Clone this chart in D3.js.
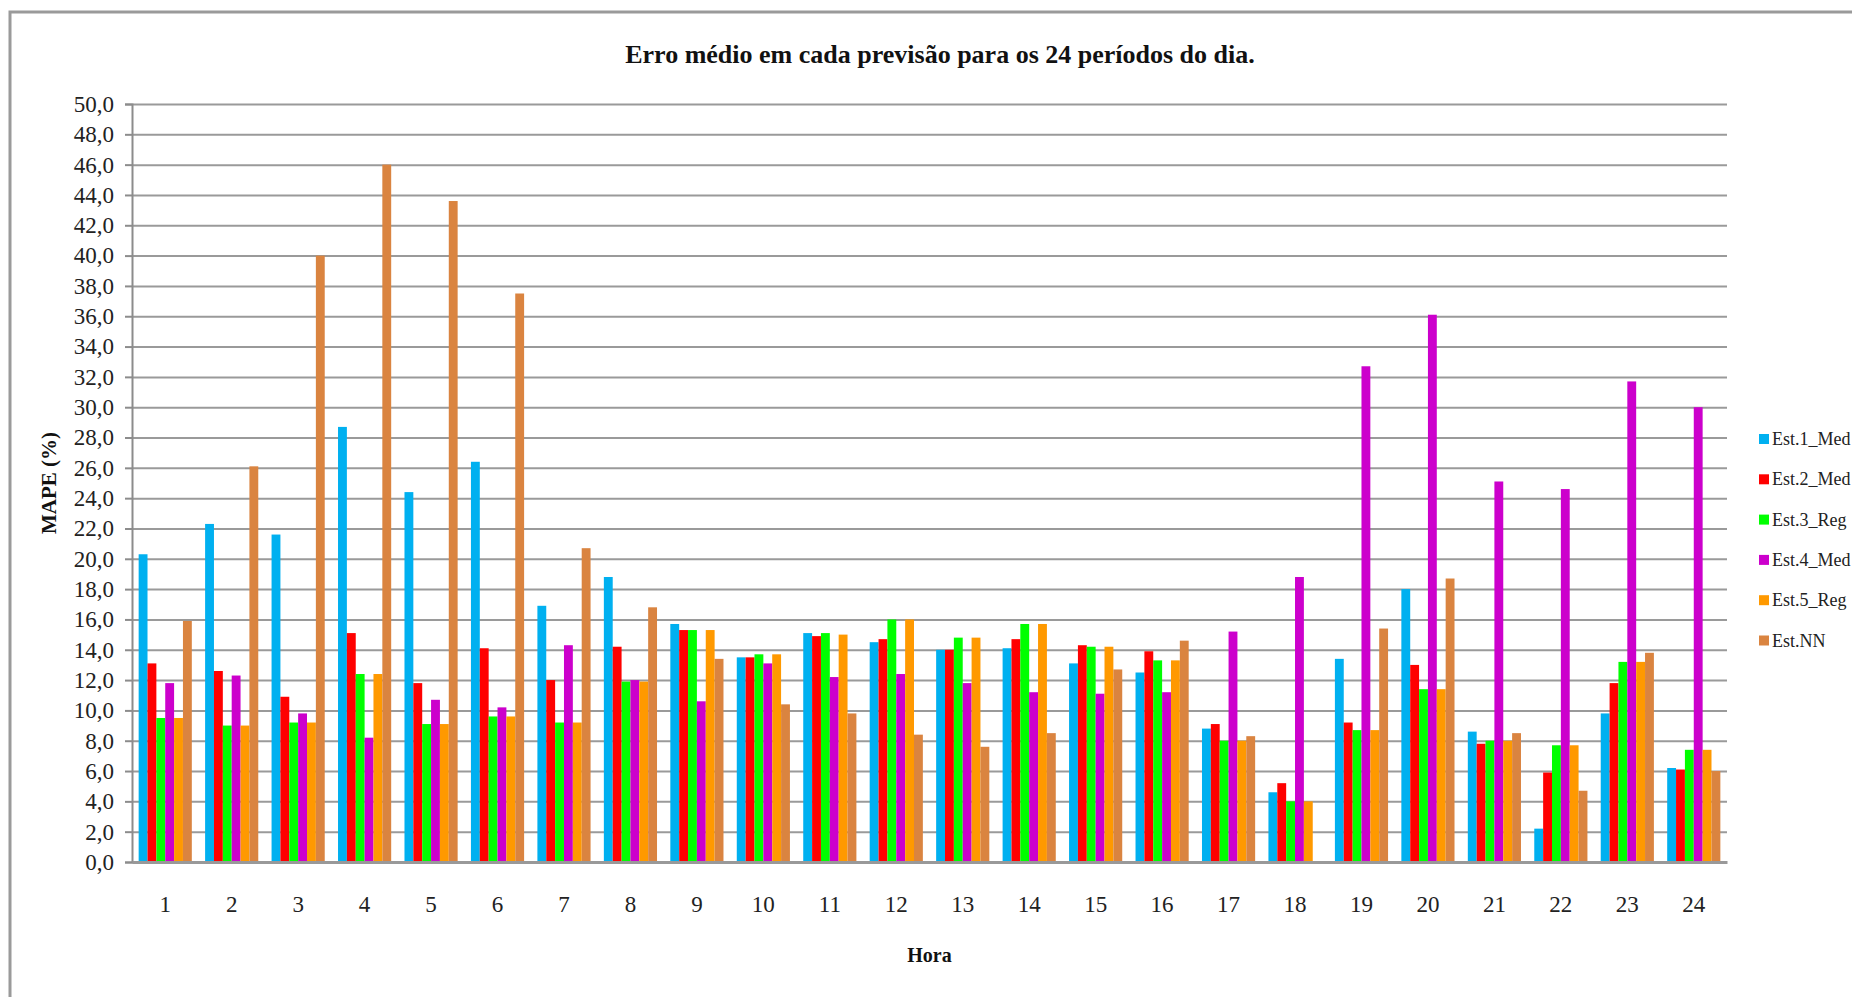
<!DOCTYPE html>
<html>
<head>
<meta charset="utf-8">
<script src="https://cdn.jsdelivr.net/npm/d3@7/dist/d3.min.js"></script>
<style>
  body { margin: 0; background: #fff; }
  svg { font-family: "Liberation Serif", "Times New Roman", serif; }
</style>
</head>
<body>
<svg id="chart" width="1852" height="997"></svg>
<script>
// categories (hour of day)
var hours = ["1","2","3","4","5","6","7","8","9","10","11","12",
             "13","14","15","16","17","18","19","20","21","22","23","24"];

var seriesNames = ["Est.1_Med", "Est.2_Med", "Est.3_Reg", "Est.4_Med", "Est.5_Reg", "Est.NN"];
var seriesColors = ["#00b0f0", "#ff0000", "#00ff00", "#cc00cc", "#ff9900", "#da8440"];

var est1 = [20.3,22.3,21.6,28.7,24.4,26.4,16.9,18.8,15.7,13.5,15.1,14.5,14.0,14.1,13.1,12.5,8.8,4.6,13.4,18.0,8.6,2.2,9.8,6.2];
var est2 = [13.1,12.6,10.9,15.1,11.8,14.1,12.0,14.2,15.3,13.5,14.9,14.7,14.0,14.7,14.3,13.9,9.1,5.2,9.2,13.0,7.8,5.9,11.8,6.1];
var est3 = [9.5,9.0,9.2,12.4,9.1,9.6,9.2,11.9,15.3,13.7,15.1,16.0,14.8,15.7,14.2,13.3,8.0,4.0,8.7,11.4,8.0,7.7,13.2,7.4];
var est4 = [11.8,12.3,9.8,8.2,10.7,10.2,14.3,12.0,10.6,13.1,12.2,12.4,11.8,11.2,11.1,11.2,15.2,18.8,32.7,36.1,25.1,24.6,31.7,30.0];
var est5 = [9.5,9.0,9.2,12.4,9.1,9.6,9.2,11.9,15.3,13.7,15.0,16.0,14.8,15.7,14.2,13.3,8.0,4.0,8.7,11.4,8.0,7.7,13.2,7.4];
var estNN = [15.9,26.1,40.0,46.0,43.6,37.5,20.7,16.8,13.4,10.4,9.8,8.4,7.6,8.5,12.7,14.6,8.3,0,15.4,18.7,8.5,4.7,13.8,6.0];

var yTicks = [0,2,4,6,8,10,12,14,16,18,20,22,24,26,28,30,32,34,36,38,40,42,44,46,48,50];

var chartTitle = "Erro médio em cada previsão para os 24 períodos do dia.";
var yTitle = "MAPE (%)";
var xTitle = "Hora";

function chart() {
  var allSeries = [est1, est2, est3, est4, est5, estNN];

  // one row per hour, one field per series
  var data = hours.map(function(h, i) {
    var row = { hour: h };
    seriesNames.forEach(function(n, j) { row[n] = allSeries[j][i]; });
    return row;
  });

  var svg = d3.select("#chart"),
      margin = {top: 104, left: 132, bottom: 135, right: 125},
      width = +svg.attr("width"),
      height = +svg.attr("height");

  var plotRight = width - margin.right,
      plotBottom = height - margin.bottom;

  var fmt = d3.formatLocale({decimal: ",", thousands: ".", grouping: [3], currency: ["", ""]}).format(".1f");

  var x0 = d3.scaleBand()
    .domain(hours)
    .range([margin.left, plotRight])
    .paddingInner(0.2)
    .paddingOuter(0.1);

  var x1 = d3.scaleBand()
    .domain(seriesNames)
    .range([0, x0.bandwidth()]);

  var y = d3.scaleLinear()
    .domain([0, 50])
    .range([plotBottom, margin.top]);

  var color = d3.scaleOrdinal().domain(seriesNames).range(seriesColors);

  // outer frame (only top and left edges are visible in the picture)
  svg.append("path")
    .attr("d", "M10," + height + "V12H" + width)
    .attr("fill", "none")
    .attr("stroke", "#9a9a9a")
    .attr("stroke-width", 3);

  // grid
  svg.append("g")
    .attr("class", "y-grid")
    .attr("transform", "translate(" + margin.left + ",0)")
    .call(d3.axisLeft(y).tickValues(yTicks).tickSize(-(plotRight - margin.left)).tickFormat(""))
    .call(g => g.select(".domain").remove())
    .call(g => g.selectAll("line").attr("stroke", "#9a9a9a").attr("stroke-width", 2));

  // bars
  svg.append("g")
    .selectAll("g")
    .data(data)
    .enter().append("g")
      .attr("transform", d => "translate(" + x0(d.hour) + ",0)")
    .selectAll("rect")
    .data(d => seriesNames.map(n => ({key: n, value: d[n]})))
    .enter().append("rect")
      .attr("x", d => x1(d.key))
      .attr("y", d => y(d.value))
      .attr("width", x1.bandwidth())
      .attr("height", d => y(0) - y(d.value))
      .attr("fill", d => color(d.key));

  // y axis
  svg.append("g")
    .attr("class", "y-axis")
    .attr("transform", "translate(" + margin.left + ",0)")
    .call(d3.axisLeft(y).tickValues(yTicks).tickSize(7).tickPadding(11).tickFormat(fmt))
    .call(g => g.select(".domain").attr("stroke", "#8c8c8c").attr("stroke-width", 2))
    .call(g => g.selectAll("line").attr("stroke", "#8c8c8c").attr("stroke-width", 2))
    .call(g => g.selectAll("text")
      .attr("font-family", "Liberation Serif")
      .attr("font-size", 23)
      .attr("fill", "#222"));

  // x axis
  svg.append("g")
    .attr("class", "x-axis")
    .attr("transform", "translate(0," + plotBottom + ")")
    .call(d3.axisBottom(x0).tickSize(0).tickPadding(34).tickSizeOuter(0))
    .call(g => g.select(".domain").attr("stroke", "#999").attr("stroke-width", 3))
    .call(g => g.selectAll("text")
      .attr("font-family", "Liberation Serif")
      .attr("font-size", 23)
      .attr("fill", "#222"));

  // titles
  svg.append("text")
    .attr("x", 940)
    .attr("y", 63)
    .attr("text-anchor", "middle")
    .attr("font-size", 26)
    .attr("font-weight", "bold")
    .attr("fill", "#111")
    .text(chartTitle);

  svg.append("text")
    .attr("transform", "translate(56," + ((margin.top + plotBottom) / 2) + ") rotate(-90)")
    .attr("text-anchor", "middle")
    .attr("font-size", 21)
    .attr("font-weight", "bold")
    .attr("fill", "#111")
    .text(yTitle);

  svg.append("text")
    .attr("x", (margin.left + plotRight) / 2)
    .attr("y", 962)
    .attr("text-anchor", "middle")
    .attr("font-size", 20)
    .attr("font-weight", "bold")
    .attr("fill", "#111")
    .text(xTitle);

  // legend
  var legend = svg.append("g")
    .attr("class", "legend")
    .attr("transform", "translate(1759,439)")
    .selectAll("g")
    .data(seriesNames)
    .enter().append("g")
      .attr("transform", (d, i) => "translate(0," + i * 40.3 + ")");

  legend.append("rect")
    .attr("x", 0)
    .attr("y", -5)
    .attr("width", 10)
    .attr("height", 10)
    .attr("fill", d => color(d));

  legend.append("text")
    .attr("x", 13)
    .attr("y", 6)
    .attr("font-size", 18)
    .attr("fill", "#222")
    .text(d => d);
}

chart();
</script>
</body>
</html>
